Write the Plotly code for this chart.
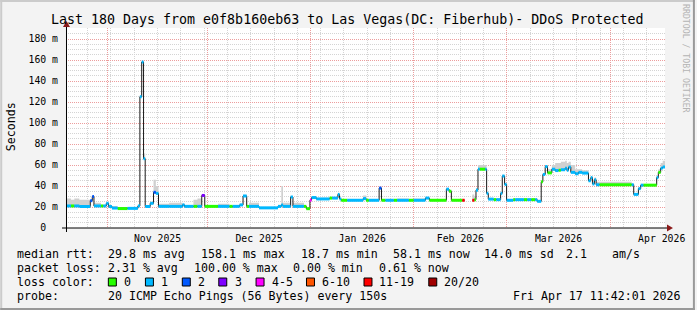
import plotly.graph_objects as go
from datetime import datetime, timedelta

# ---------------- data ----------------
START = datetime(2025, 10, 19, 11, 42, 1)
SPAN_DAYS = 180

# runs of constant median: start (days after START), median (ms), loss class, top of smoke (ms)
run_day = [0.0, 1.5, 2.5, 4.0, 7.3, 7.9, 8.4, 10.5, 11.2, 12.1,
           12.8, 13.8, 15.5, 18.5, 21.6, 22.2, 22.75, 23.3, 23.8, 25.3,
           26.3, 27.0, 27.8, 31.0, 35.0, 35.6, 38.3, 39.5, 40.8, 41.7,
           45.7, 49.1, 50.1, 52.2, 53.2, 54.3, 55.0, 58.0, 63.7, 64.7,
           65.2, 67.5, 68.2, 71.5, 72.2, 73.3, 73.8, 75.2, 79.2, 80.0,
           81.7, 82.2, 82.7, 84.5, 89.3, 90.2, 91.0, 94.1, 94.8, 96.0,
           98.5, 99.5, 103.0, 104.5, 108.0, 109.2, 114.3, 115.1, 115.8, 119.1,
           119.8, 122.1, 122.7, 123.2, 123.8, 124.3, 126.0, 126.4, 126.9, 128.5,
           129.3, 130.6, 131.1, 131.8, 132.4, 134.4, 135.0, 137.6, 138.6, 139.8,
           141.0, 141.6, 142.8, 143.3, 144.0, 144.7, 146.0, 147.0, 148.0, 148.7,
           150.0, 150.5, 151.0, 151.7, 153.0, 154.0, 155.1, 157.0, 157.7, 158.2,
           158.8, 159.3, 160.3, 170.0, 170.6, 172.0, 172.7, 173.5, 177.5, 178.0,
           178.7, 179.3]
run_median_ms = [21.0, 21.0, 21.0, 20.5, 26.0, 30.0, 21.0, 21.0, 21.0, 23.5,
                 20.5, 19.0, 18.5, 18.7, 21.0, 125.0, 158.1, 66.0, 20.5, 23.5,
                 34.0, 33.0, 20.6, 20.6, 22.0, 20.6, 20.6, 20.6, 31.0, 20.6,
                 20.6, 20.6, 20.6, 22.0, 30.5, 20.6, 20.6, 19.2, 20.6, 22.0,
                 20.6, 29.5, 20.6, 20.6, 18.4, 26.5, 29.0, 27.7, 28.5, 28.5,
                 32.0, 27.7, 26.4, 26.4, 28.0, 26.4, 26.4, 38.0, 26.4, 26.4,
                 26.4, 26.4, 26.4, 26.4, 28.5, 26.4, 37.0, 35.0, 26.4, 26.4,
                 None, 26.4, 27.0, 36.0, 56.0, 56.0, 56.0, 33.0, 27.5, 27.0,
                 27.0, 33.0, 49.5, 41.5, 26.4, 27.0, 27.0, 27.0, 27.0, 27.0,
                 27.0, 25.4, 44.0, 51.0, 58.5, 52.5, 56.0, 54.7, 55.0, 55.5,
                 57.0, 55.0, 58.0, 53.0, 51.7, 53.0, 52.3, 45.0, 48.0, 42.0,
                 46.0, 41.2, 41.2, 41.2, 32.0, 37.5, 40.8, 40.8, 48.0, 53.0,
                 57.0, 58.1]
run_loss = [1, 0, 1, 1, 2, 2, 1, 0, 1, 1,
            1, 1, 0, 1, 1, 1, 1, 1, 1, 1,
            2, 1, 1, 1, 1, 1, 0, 1, 3, 0,
            1, 0, 1, 1, 1, 0, 1, 1, 1, 1,
            1, 1, 1, 0, 0, 4, 1, 1, 0, 1,
            1, 1, 0, 1, 1, 0, 1, 2, 0, 1,
            0, 1, 0, 1, 1, 0, 1, 0, 0, 6,
            None, 6, 0, 1, 1, 0, 1, 1, 1, 0,
            1, 1, 1, 1, 1, 0, 1, 0, 1, 0,
            1, 1, 0, 1, 1, 0, 1, 1, 0, 1,
            1, 1, 1, 1, 1, 1, 1, 1, 1, 1,
            1, 1, 0, 1, 1, 1, 1, 0, 1, 0,
            1, 1]
run_smoke_ms = [28, 27, 28, 27, 27, 31, 24, 22, 22, 24,
                22, 21, 20, 20, 22, 126, 159, 71, 22, 25,
                46, 40, 23, 24, 23, 22, 27, 28, 32, 21,
                23, 21, 22, 23, 31, 22, 24, 20, 22, 40,
                24, 30, 24, 22, 19, 27, 30, 28, 29, 29,
                33, 28, 27, 27, 31, 27, 27, 39, 27, 27,
                27, 28, 27, 28, 29, 27, 38, 36, 27, 27,
                None, 32, 30, 38, 60, 60, 60, 34, 28, 28,
                28, 34, 50, 42, 27, 28, 28, 28, 28, 28,
                28, 26, 45, 52, 60, 56, 60, 62, 62, 63,
                64, 62, 63, 60, 56, 56, 55, 46, 49, 46,
                48, 44, 44, 42, 33, 38, 41, 41, 50, 56,
                62, 64]

loss_labels = ["0", "1", "2", "3", "4-5", "6-10", "11-19", "20/20"]
loss_colors = ["#26ff00", "#00b8ff", "#0059ff", "#7e00ff", "#ff00ff", "#ff5500", "#ff0000", "#a10000"]

y_tick_vals = [0, 20, 40, 60, 80, 100, 120, 140, 160, 180]
y_tick_text = ["0\u00a0\u00a0", "20 m", "40 m", "60 m", "80 m", "100 m", "120 m", "140 m", "160 m", "180 m"]

title_text = "Last 180 Days from e0f8b160eb63 to Las Vegas(DC: Fiberhub)- DDoS Protected"
stats_rows = [
    [("median rtt:", 16), ("29.8 ms avg", 107.3), ("158.1 ms max", 200), ("18.7 ms min", 300.7),
     ("58.1 ms now", 393.3), ("14.0 ms sd", 484.3), ("2.1", 566.7), ("am/s", 613.3)],
    [("packet loss:", 16), ("2.31 % avg", 107.3), ("100.00 % max", 193.3), ("0.00 % min", 292.7),
     ("0.61 % now", 379.3)],
]
probe_text = "20 ICMP Echo Pings (56 Bytes) every 150s"
date_text = "Fri Apr 17 11:42:01 2026"

# ---------------- geometry helpers (pixels -> paper) ----------------
W_IMG, H_IMG = 697, 310
L, R, T, B = 66, 667, 28, 228
PW, PH = R - L, B - T


def px(x):
    return (x - L) / PW


def py(y):
    return (B - y) / PH


def t(d):
    return START + timedelta(days=d)


FONT = "DejaVu Sans Mono"
GRID = "#d4d4d4"
MGRID = "#ec9d9d"

fig = go.Figure()

# ---------------- build step paths ----------------
n = len(run_day)
ends = run_day[1:] + [SPAN_DAYS]

# smoke: contiguous segments
segments = []
cur = []
for i in range(n):
    if run_median_ms[i] is None:
        if cur:
            segments.append(cur)
        cur = []
        continue
    cur.append(i)
if cur:
    segments.append(cur)

for seg in segments:
    xs, lo, hi = [], [], []
    for i in seg:
        xs += [t(run_day[i]), t(ends[i])]
        lo += [run_median_ms[i], run_median_ms[i]]
        hi += [run_smoke_ms[i], run_smoke_ms[i]]
    fig.add_trace(go.Scatter(x=xs, y=lo, mode="lines", line=dict(width=0), hoverinfo="skip"))
    fig.add_trace(go.Scatter(x=xs, y=hi, mode="lines", line=dict(width=0), fill="tonexty",
                             fillcolor="#d0d0d0", hoverinfo="skip"))

# black median step line
bx, by = [], []
for i in range(n):
    if run_median_ms[i] is None:
        bx.append(None)
        by.append(None)
        continue
    bx += [t(run_day[i]), t(ends[i])]
    by += [run_median_ms[i], run_median_ms[i]]
fig.add_trace(go.Scatter(x=bx, y=by, mode="lines", line=dict(color="#1a1a1a", width=1),
                         connectgaps=False, hoverinfo="skip"))

# coloured horizontal parts by loss class
for k, col in enumerate(loss_colors):
    cx, cy = [], []
    for i in range(n):
        if run_loss[i] == k:
            cx += [t(run_day[i]), t(ends[i]), None]
            cy += [run_median_ms[i], run_median_ms[i], None]
    if cx:
        fig.add_trace(go.Scatter(x=cx, y=cy, mode="lines", line=dict(color=col, width=3),
                                 connectgaps=False, hoverinfo="skip"))

# ---------------- axes ----------------
fig.update_xaxes(
    type="date", range=[t(0), t(SPAN_DAYS)],
    showgrid=True, gridcolor=MGRID, griddash="1px,1px", gridwidth=1,
    tick0="2025-11-01", dtick="M1", ticklabelmode="period", tickformat="%b %Y",
    ticks="", showline=False, zeroline=False,
    tickfont=dict(family=FONT, size=9.8, color="#000"), ticklabelstandoff=3,
    minor=dict(tick0="2025-10-26", dtick=7 * 86400000, showgrid=True, gridcolor=GRID,
               griddash="1px,1px", gridwidth=1),
)
fig.update_yaxes(
    range=[0, PH / 1.05], tickvals=y_tick_vals, ticktext=y_tick_text,
    showgrid=True, gridcolor=MGRID, griddash="1px,1px", gridwidth=1,
    ticks="", showline=False, zeroline=False,
    tickfont=dict(family=FONT, size=9.8, color="#000"), ticklabelstandoff=7,
    minor=dict(dtick=5, showgrid=True, gridcolor=GRID, griddash="1px,1px", gridwidth=1),
)

shapes = []
# axis lines
shapes.append(dict(type="line", xref="paper", yref="paper", x0=px(62), x1=px(670), y0=py(228), y1=py(228),
                   line=dict(color="#000", width=1)))
shapes.append(dict(type="line", xref="paper", yref="paper", x0=px(66.5), x1=px(66.5), y0=py(232), y1=py(25),
                   line=dict(color="#000", width=1)))
# arrows
shapes.append(dict(type="path", xref="paper", yref="paper",
                   path=f"M {px(669)} {py(224.5)} L {px(675)} {py(228)} L {px(669)} {py(231.5)} Z",
                   fillcolor="#8b1a1a", line=dict(width=0)))
shapes.append(dict(type="path", xref="paper", yref="paper",
                   path=f"M {px(63)} {py(27)} L {px(66.5)} {py(21)} L {px(70)} {py(27)} Z",
                   fillcolor="#8b1a1a", line=dict(width=0)))
# frame
shapes.append(dict(type="rect", xref="paper", yref="paper", x0=px(0), x1=px(2), y0=py(0), y1=py(310),
                   fillcolor="#cbcbcb", line=dict(width=0)))
shapes.append(dict(type="rect", xref="paper", yref="paper", x0=px(0), x1=px(697), y0=py(0), y1=py(2),
                   fillcolor="#cbcbcb", line=dict(width=0)))
shapes.append(dict(type="rect", xref="paper", yref="paper", x0=px(695), x1=px(697), y0=py(0), y1=py(310),
                   fillcolor="#999999", line=dict(width=0)))
shapes.append(dict(type="rect", xref="paper", yref="paper", x0=px(0), x1=px(697), y0=py(308), y1=py(310),
                   fillcolor="#999999", line=dict(width=0)))

# loss colour boxes
box_x = [108.5, 145.7, 182.7, 219.3, 256.7, 307.3, 365.0, 430.0]
lab_x = [123.3, 160.0, 197.3, 235.0, 271.7, 322.3, 379.3, 444.3]
for bxp, col in zip(box_x, loss_colors):
    shapes.append(dict(type="rect", xref="paper", yref="paper", x0=px(bxp), x1=px(bxp + 8),
                       y0=py(278), y1=py(286), fillcolor=col, line=dict(color="#000", width=1)))

annotations = []


def txt(s, x, y, size=11.6, anchor="left", color="#000", angle=0):
    annotations.append(dict(text=s, x=px(x), y=py(y), xref="paper", yref="paper", showarrow=False,
                            xanchor=anchor, yanchor="middle", borderpad=0, textangle=angle,
                            font=dict(family=FONT, size=size, color=color)))


txt(title_text, 348, 19.3, size=13.3, anchor="center")
txt("Seconds", 11, 127, size=11.6, anchor="center", angle=-90)
txt("RRDTOOL / TOBI OETIKER", 688, 59, size=8.2, anchor="center", color="#b4b4b4", angle=90)
row_y = [254.3, 268.3]
for row, yy in zip(stats_rows, row_y):
    for s, xx in row:
        txt(s, xx, yy)
txt("loss color:", 16, 282.3)
for lab, xx in zip(loss_labels, lab_x):
    txt(lab, xx, 282.3)
txt("probe:", 16, 295.5)
txt(probe_text, 107.3, 295.5)
txt(date_text, 513.3, 295.5)

fig.update_layout(
    width=W_IMG, height=H_IMG, margin=dict(l=L, r=W_IMG - R, t=T, b=H_IMG - B),
    paper_bgcolor="#f3f3f3", plot_bgcolor="#ffffff", showlegend=False,
    shapes=shapes, annotations=annotations,
)

fig.write_html("out.html")
